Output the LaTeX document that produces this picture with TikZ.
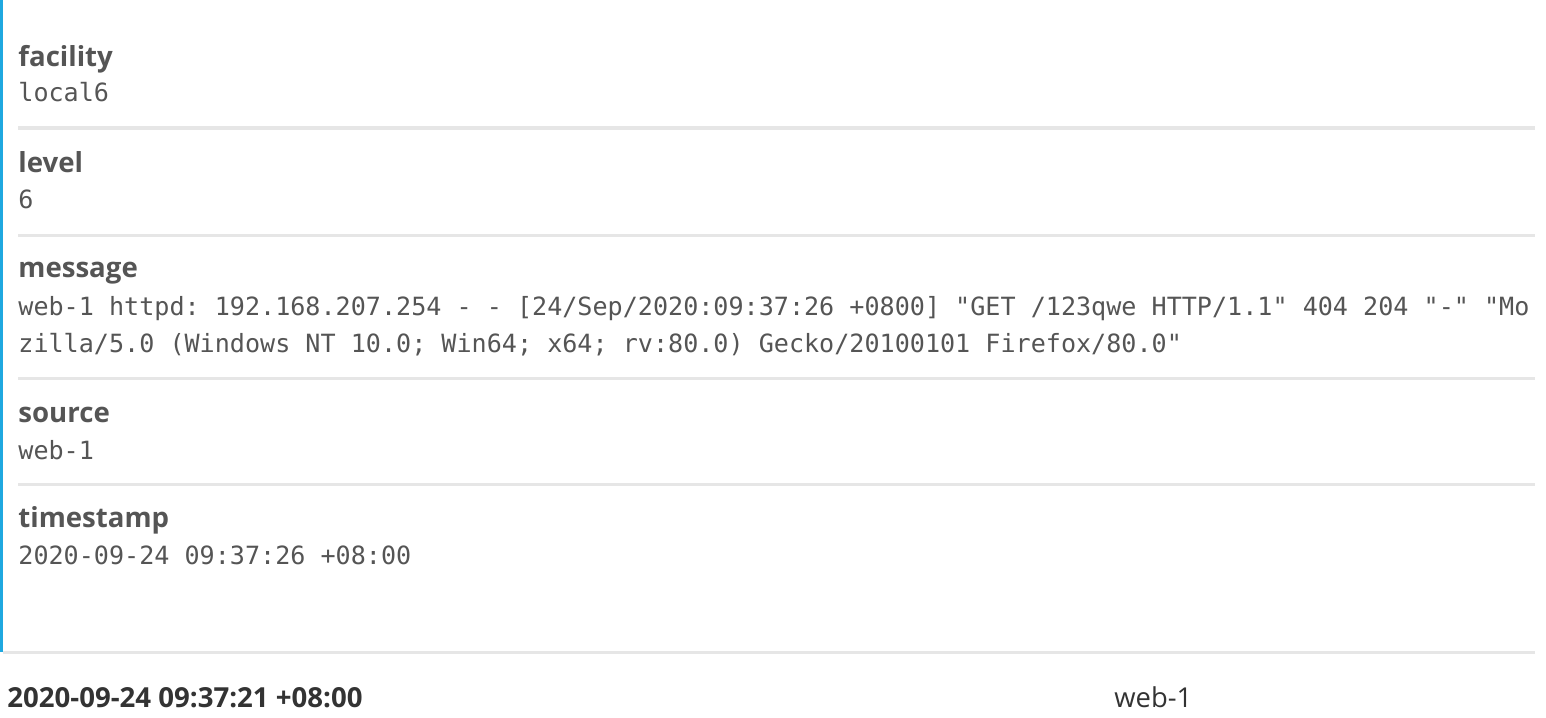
\documentclass[tikz,border=0pt]{standalone}
\usepackage{fontspec}
\setmainfont{Open Sans}
\setmonofont{DejaVu Sans Mono}
\usetikzlibrary{positioning}

\definecolor{barblue}{HTML}{1FA8E0}
\definecolor{rulegray}{HTML}{E6E6E6}
\definecolor{textgray}{HTML}{555555}
\definecolor{textdark}{HTML}{333333}

\tikzset{
    fieldname/.style={anchor=base west, inner sep=0pt, text=textgray,
        font=\fontsize{13.8}{16}\selectfont\bfseries},
    fieldvalue/.style={anchor=base west, inner sep=0pt, text=textgray,
        font=\fontsize{12.55}{15}\selectfont\ttfamily},
    separator/.style={draw=rulegray, line width=1.5pt}
}

\begin{document}
\begin{tikzpicture}[x=0.5pt, y=-0.5pt]
    \useasboundingbox[fill=white] (0,0) rectangle (1546,717);

    % Left accent bar
    \fill[barblue] (0,0) rectangle (3,652);

    % Fields
    \node[fieldname] (facility) at (18,67) {facility};
    \node[fieldvalue] (facilityval) at (18,102) {local6};
    \node[fieldname] (level) at (18,172) {level};
    \node[fieldvalue] (levelval) at (18,208) {6};
    \node[fieldname] (message) at (18,277) {message};
    \node[fieldvalue] (messageval) at (18,315) {web-1 httpd: 192.168.207.254 - - [24/Sep/2020:09:37:26 +0800] "GET /123qwe HTTP/1.1" 404 204 "-" "Mo};
    \node[fieldvalue] (messagevaltwo) at (18,352) {zilla/5.0 (Windows NT 10.0; Win64; x64; rv:80.0) Gecko/20100101 Firefox/80.0"};
    \node[fieldname] (source) at (18,422) {source};
    \node[fieldvalue] (sourceval) at (18,459) {web-1};
    \node[fieldname] (timestamp) at (18,527) {timestamp};
    \node[fieldvalue] (timestampval) at (18,564) {2020-09-24 09:37:26 +08:00};

    % Separators
    \foreach \y in {128,235,378,484}
        \draw[separator] (18,\y) -- (1535,\y);
    \draw[separator] (3,652) -- (1535,652);

    % Next entry
    \node[anchor=base west, inner sep=0pt, text=textdark,
        font=\fontsize{13.8}{16}\selectfont\bfseries] (nextstamp) at (7,707) {2020-09-24 09:37:21 +08:00};
    \node[anchor=base west, inner sep=0pt, text=textdark,
        font=\fontsize{13.7}{16}\selectfont] (nextsource) at (1114,707) {web-1};
\end{tikzpicture}
\end{document}
